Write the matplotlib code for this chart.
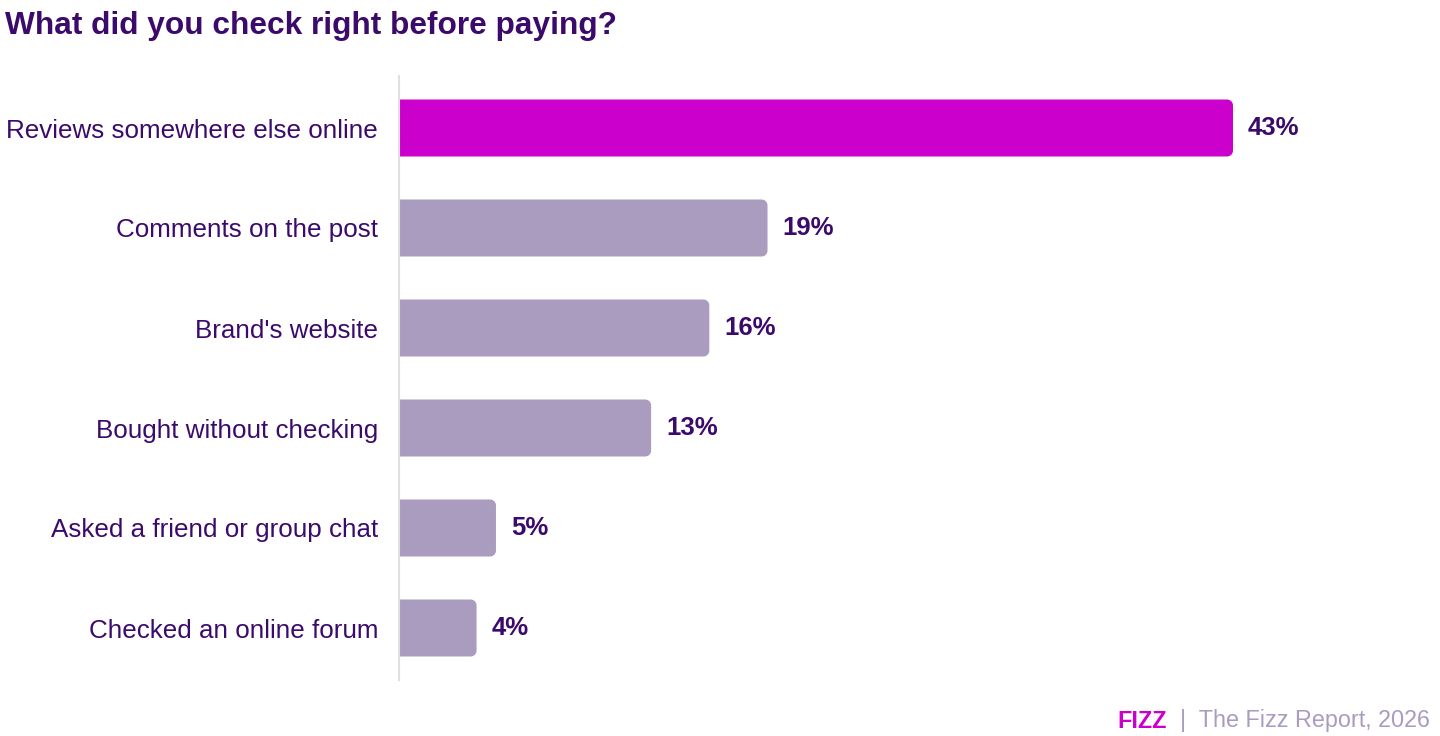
import numpy as np
import matplotlib.pyplot as plt
from matplotlib.patches import Polygon

plt.rcParams['font.family'] = ['Liberation Sans', 'DejaVu Sans']

# data
categories = [
    "Reviews somewhere else online",
    "Comments on the post",
    "Brand's website",
    "Bought without checking",
    "Asked a friend or group chat",
    "Checked an online forum",
]
values = [43, 19, 16, 13, 5, 4]
highlight = "Reviews somewhere else online"

DARK = '#3b0a6b'
MAGENTA = '#cc00cc'
MUTED = '#aa9cbf'

W, H = 1440, 736
fig = plt.figure(figsize=(W / 100, H / 100), dpi=100)
# axes in pixels: left edge 399, right edge 1400, top 76, bottom 680
ax = fig.add_axes([399 / W, 1 - 680 / H, (1400 - 399) / W, (680 - 76) / H])

n = len(categories)
xmax = 43 * (1400 - 399) / (1233 - 399)
ax.set_xlim(0, xmax)
ax.set_ylim(n - 1 + 0.52, -0.52)

bar_h = 0.57
px_x = xmax / (1400 - 399)          # data units per pixel in x
px_y = (n - 1 + 1.04) / (680 - 76)  # data units per pixel in y


def right_rounded_bar(y, v, radius_px=6):
    """polygon for a bar with rounded corners on the right end only"""
    rx, ry = radius_px * px_x, radius_px * px_y
    top, bot = y - bar_h / 2, y + bar_h / 2
    t = np.linspace(0, np.pi / 2, 12)
    # top-right corner then bottom-right corner
    c1 = np.column_stack([v - rx + rx * np.sin(t), top + ry - ry * np.cos(t)])
    c2 = np.column_stack([v - rx + rx * np.cos(t), bot - ry + ry * np.sin(t)])
    pts = np.vstack([[0, top], c1, c2, [0, bot]])
    return pts


for i, (cat, v) in enumerate(zip(categories, values)):
    color = MAGENTA if cat == highlight else MUTED
    ax.add_patch(Polygon(right_rounded_bar(i, v), closed=True, color=color, lw=0))
    ax.text(v + 15 * px_x, i, f"{v}%", va='center', ha='left', fontsize=18.5,
            fontweight='bold', color=DARK)

ax.set_yticks(range(n))
ax.set_yticklabels(categories, fontsize=18.7, color=DARK)
ax.tick_params(axis='y', length=0, pad=15)
ax.set_xticks([])
for s in ['top', 'right', 'bottom']:
    ax.spines[s].set_visible(False)
ax.spines['left'].set_color('#e0e0e0')
ax.spines['left'].set_linewidth(1.5)
ax.spines['left'].set_zorder(3)

fig.text(5 / W, 1 - 26 / H, "What did you check right before paying?",
         fontsize=22.8, fontweight='bold', color=DARK, va='center', ha='left')

# footer
t = fig.text(1430 / W, 1 - 721 / H, "|  The Fizz Report, 2026", fontsize=16.8,
             color=MUTED, ha='right', va='center')
fig.canvas.draw()
bb = t.get_window_extent()
fig.text((bb.x0 - 13) / W, 1 - 721 / H, "FIZZ", fontsize=16.8, fontweight='bold',
         color=MAGENTA, ha='right', va='center')

fig.savefig('out.png', dpi=100)
